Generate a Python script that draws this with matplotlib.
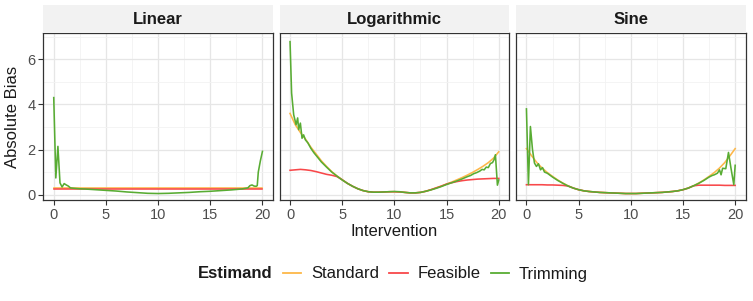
import numpy as np
import matplotlib
matplotlib.use("Agg")
import matplotlib.pyplot as plt
from matplotlib.lines import Line2D
from matplotlib.ticker import MultipleLocator

plt.rcParams['font.family'] = ['Liberation Sans', 'DejaVu Sans']

panels = ["Linear", "Logarithmic", "Sine"]
estimands = ["Standard", "Feasible", "Trimming"]
colors = {"Standard": "#FDB748", "Feasible": "#F8484A", "Trimming": "#58AC33"}

x_grid = [0, 0.5, 1, 1.5, 2, 2.5, 3, 3.5, 4, 4.5, 5, 5.5, 6, 6.5, 7, 7.5, 8, 8.5, 9, 9.5,
          10, 10.5, 11, 11.5, 12, 12.5, 13, 13.5, 14, 14.5, 15, 15.5, 16, 16.5, 17, 17.5,
          18, 18.5, 19, 19.5, 20]

# ---- Linear ----
lin_standard = [0.28] * 41
lin_feasible = [0.23] * 41
lin_trim_x = [0, 0.2, 0.4, 0.6, 0.8, 1.0, 1.2, 1.4, 1.6, 2, 2.5, 3, 4, 5, 6, 7, 8, 9, 10,
              11, 12, 13, 14, 15, 16, 17, 18, 18.6, 18.8, 19.0, 19.2, 19.4, 19.5, 19.6,
              19.8, 20]
lin_trim = [4.3, 0.74, 2.14, 0.52, 0.34, 0.49, 0.43, 0.38, 0.3, 0.28, 0.26, 0.25, 0.22,
            0.19, 0.16, 0.12, 0.09, 0.06, 0.05, 0.06, 0.08, 0.1, 0.13, 0.15, 0.18, 0.21,
            0.25, 0.3, 0.4, 0.43, 0.38, 0.37, 0.4, 1.0, 1.5, 1.92]

# ---- Logarithmic ----
log_standard = [3.6, 3.1, 2.75, 2.45, 2.1, 1.8, 1.5, 1.25, 1.02, 0.83, 0.66, 0.5, 0.37,
                0.26, 0.18, 0.13, 0.11, 0.11, 0.12, 0.13, 0.13, 0.12, 0.1, 0.08, 0.08,
                0.1, 0.15, 0.22, 0.3, 0.38, 0.47, 0.56, 0.66, 0.76, 0.87, 0.99, 1.12,
                1.26, 1.42, 1.62, 1.9]
log_feasible = [1.08, 1.1, 1.12, 1.1, 1.07, 1.02, 0.96, 0.9, 0.86, 0.8, 0.66, 0.5, 0.37,
                0.26, 0.18, 0.13, 0.11, 0.11, 0.12, 0.13, 0.13, 0.12, 0.1, 0.08, 0.08,
                0.1, 0.15, 0.22, 0.3, 0.38, 0.47, 0.53, 0.58, 0.62, 0.65, 0.67, 0.69,
                0.7, 0.71, 0.72, 0.72]
log_trim_x = [0, 0.15, 0.35, 0.58, 0.73, 0.83, 0.99, 1.15, 1.3, 1.47, 1.7, 2.0, 2.3, 2.6,
              3.0, 3.5, 4, 4.5, 5, 5.5, 6, 6.5, 7, 7.5, 8, 8.5, 9, 9.5, 10, 10.5, 11,
              11.5, 12, 12.5, 13, 13.5, 14, 14.5, 15, 15.5, 16, 16.5, 17, 17.3, 17.6,
              17.9, 18.2, 18.4, 18.6, 18.8, 19.0, 19.2, 19.4, 19.55, 19.68, 19.87, 20]
log_trim = [6.78, 4.5, 3.54, 3.1, 3.4, 2.88, 3.17, 2.5, 2.65, 2.43, 2.3, 2.05, 1.85, 1.68,
            1.45, 1.22, 1.0, 0.82, 0.65, 0.5, 0.37, 0.26, 0.18, 0.13, 0.11, 0.11, 0.12,
            0.13, 0.14, 0.13, 0.1, 0.08, 0.08, 0.1, 0.15, 0.21, 0.28, 0.36, 0.45, 0.53,
            0.61, 0.7, 0.8, 0.85, 0.93, 0.98, 1.05, 1.12, 1.1, 1.22, 1.2, 1.38, 1.42,
            1.55, 1.77, 0.42, 0.65]

# ---- Sine ----
sin_standard = [2.04, 1.72, 1.42, 1.18, 0.98, 0.81, 0.65, 0.51, 0.39, 0.29, 0.22, 0.17,
                0.14, 0.12, 0.1, 0.09, 0.08, 0.07, 0.06, 0.05, 0.05, 0.05, 0.06, 0.07,
                0.08, 0.09, 0.1, 0.12, 0.14, 0.17, 0.22, 0.29, 0.39, 0.51, 0.65, 0.81,
                0.98, 1.18, 1.42, 1.72, 2.04]
sin_feasible = [0.44, 0.44, 0.44, 0.44, 0.43, 0.43, 0.42, 0.41, 0.38, 0.29, 0.22, 0.17,
                0.14, 0.12, 0.1, 0.09, 0.08, 0.07, 0.06, 0.05, 0.05, 0.05, 0.06, 0.07,
                0.08, 0.09, 0.1, 0.12, 0.14, 0.17, 0.22, 0.29, 0.39, 0.42, 0.42, 0.42,
                0.42, 0.42, 0.41, 0.41, 0.41]
sin_trim_x = [0, 0.19, 0.38, 0.58, 0.77, 0.96, 1.15, 1.35, 1.54, 1.73, 2.0, 2.5, 3, 3.5,
              4, 4.5, 5, 5.5, 6, 6.5, 7, 7.5, 8, 8.5, 9, 9.5, 10, 10.5, 11, 11.5, 12,
              12.5, 13, 13.5, 14, 14.5, 15, 15.5, 16, 16.5, 17, 17.5, 17.8, 18.0, 18.3,
              18.5, 18.65, 18.8, 19.1, 19.36, 19.6, 19.87, 20]
sin_trim = [3.8, 0.44, 3.02, 2.0, 1.4, 1.25, 1.37, 1.1, 1.2, 1.0, 0.95, 0.78, 0.63, 0.5,
            0.38, 0.29, 0.22, 0.17, 0.14, 0.12, 0.1, 0.09, 0.08, 0.07, 0.06, 0.05, 0.05,
            0.05, 0.06, 0.07, 0.08, 0.09, 0.1, 0.12, 0.14, 0.17, 0.22, 0.29, 0.39, 0.5,
            0.63, 0.78, 0.85, 0.88, 0.95, 1.1, 0.88, 1.17, 1.15, 1.87, 1.17, 0.44, 1.3]

data = {
    "Linear": [(x_grid, lin_standard), (x_grid, lin_feasible), (lin_trim_x, lin_trim)],
    "Logarithmic": [(x_grid, log_standard), (x_grid, log_feasible), (log_trim_x, log_trim)],
    "Sine": [(x_grid, sin_standard), (x_grid, sin_feasible), (sin_trim_x, sin_trim)],
}

W, H = 753, 301
fig = plt.figure(figsize=(W / 100, H / 100), dpi=100)

lefts = [43.3, 279.6, 516.0]
pw = 229.6
ptop, pbot = 33.3, 200.3
stop = 5.0

for i, name in enumerate(panels):
    ax = fig.add_axes([lefts[i] / W, 1 - pbot / H, pw / W, (pbot - ptop) / H])
    for (xs, ys), est in zip(data[name], estimands):
        ax.plot(xs, ys, color=colors[est], lw=1.15, solid_joinstyle='round', zorder=3)
    ax.set_xlim(-1.0, 21.0)
    ax.set_ylim(-0.25, 7.15)
    ax.xaxis.set_major_locator(MultipleLocator(5))
    ax.xaxis.set_minor_locator(MultipleLocator(2.5))
    ax.yaxis.set_major_locator(MultipleLocator(2))
    ax.yaxis.set_minor_locator(MultipleLocator(1))
    ax.grid(which='major', color='#E6E6E6', lw=0.9, zorder=0)
    ax.grid(which='minor', color='#F2F2F2', lw=0.6, zorder=0)
    ax.set_axisbelow(True)
    for s in ax.spines.values():
        s.set_color('#333333')
        s.set_linewidth(0.9)
    ax.tick_params(which='major', length=3.5, width=0.8, color='#333333',
                   labelsize=10.5, labelcolor='#4D4D4D', pad=2)
    ax.tick_params(which='minor', length=0)
    if i > 0:
        ax.tick_params(axis='y', which='both', left=False, labelleft=False)
    else:
        ax.set_ylabel("Absolute Bias", fontsize=12, color='#1A1A1A', labelpad=5)

    sax = fig.add_axes([lefts[i] / W, 1 - ptop / H, pw / W, (ptop - stop) / H])
    sax.set_facecolor('#F2F2F2')
    sax.set_xticks([])
    sax.set_yticks([])
    for s in sax.spines.values():
        s.set_visible(False)
    sax.text(0.5, 0.47, name, ha='center', va='center', fontsize=12,
             fontweight='bold', color='#1A1A1A', transform=sax.transAxes)

fig.text((lefts[0] + lefts[2] + pw) / 2 / W, 1 - 232 / H, "Intervention",
         ha='center', va='center', fontsize=12, color='#1A1A1A')

handles = [Line2D([], [], color=colors[e], lw=1.3) for e in estimands]
fig.text(198 / W, 1 - 274 / H, "Estimand", ha='left', va='center', fontsize=12,
         fontweight='bold', color='#1A1A1A')
leg = fig.legend(handles, estimands, loc='center left',
                 bbox_to_anchor=(283 / W, 1 - 274 / H), ncol=3, frameon=False,
                 fontsize=12, handlelength=1.1, handletextpad=0.6,
                 columnspacing=0.6, borderpad=0, borderaxespad=0)
for t in leg.get_texts():
    t.set_color('#1A1A1A')

fig.savefig("out.png", dpi=100)
